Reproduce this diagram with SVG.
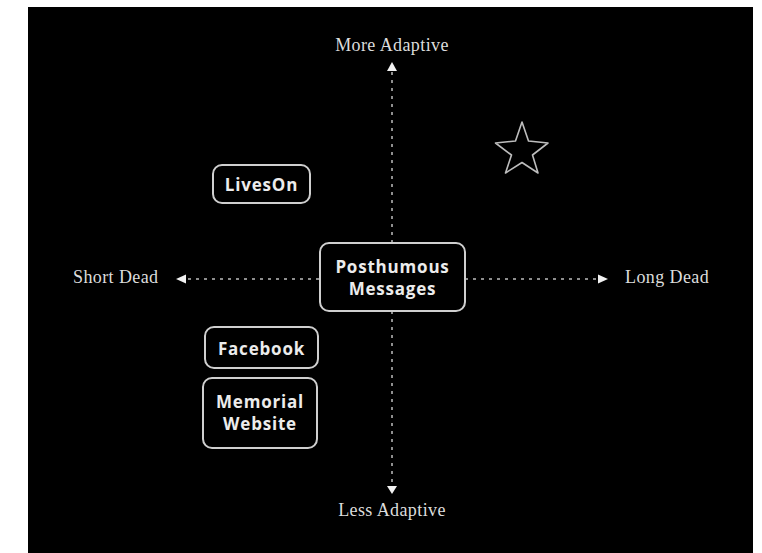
<svg xmlns="http://www.w3.org/2000/svg" width="762" height="553" viewBox="0 0 762 553">
<style>
.axis{font-family:"Liberation Serif",serif;font-size:18px;fill:#dcdcdc;letter-spacing:0.4px}
.lbl{font-family:"Open Sans","DejaVu Sans",sans-serif;font-weight:bold;font-size:17px;fill:#ececec;letter-spacing:0.8px;text-anchor:middle}
.box{fill:#000;stroke:#cfcfcf;stroke-width:2}
.dash{stroke:#bdbdbd;stroke-width:1.5;stroke-dasharray:3 5;fill:none}
.head{fill:#f2f2f2}
</style>
<rect x="0" y="0" width="762" height="553" fill="#fff"/>
<rect x="28" y="7" width="725" height="546" fill="#000"/>
<g id="connectors">
<line class="dash" x1="392" y1="72" x2="392" y2="243"/>
<line class="dash" x1="392" y1="311" x2="392" y2="486"/>
<line class="dash" x1="188" y1="279" x2="320" y2="279"/>
<line class="dash" x1="465" y1="279" x2="598" y2="279"/>
<polygon class="head" points="392,62 387,71 397,71"/>
<polygon class="head" points="392,494 387,486 397,486"/>
<polygon class="head" points="176,279 186,274.5 186,283.5"/>
<polygon class="head" points="608,279 598,274.5 598,283.5"/>
</g>
<g id="label-more-adaptive"><text class="axis" x="392" y="51" text-anchor="middle">More Adaptive</text></g>
<g id="label-less-adaptive"><text class="axis" x="392" y="516" text-anchor="middle">Less Adaptive</text></g>
<g id="label-short-dead"><text class="axis" x="73" y="283">Short Dead</text></g>
<g id="label-long-dead"><text class="axis" x="625" y="283">Long Dead</text></g>
<g id="node-posthumous">
<rect class="box" x="320" y="243" width="145" height="68" rx="9"/>
<text class="lbl" x="392.5" y="273">Posthumous</text>
<text class="lbl" x="392.5" y="295">Messages</text>
</g>
<g id="node-liveson">
<rect class="box" x="213" y="165" width="97" height="38" rx="9"/>
<text class="lbl" x="261.5" y="191">LivesOn</text>
</g>
<g id="node-facebook">
<rect class="box" x="205" y="327" width="113" height="41" rx="9"/>
<text class="lbl" x="261.5" y="355">Facebook</text>
</g>
<g id="node-memorial">
<rect class="box" x="203" y="378" width="114" height="70" rx="9"/>
<text class="lbl" x="260" y="408">Memorial</text>
<text class="lbl" x="260" y="430">Website</text>
</g>
<g id="star">
<polygon points="522,122 528.5,141 548,143 532.5,155 538,173 522,162.5 505.5,173 511.5,155 495.5,143 515.5,141" fill="none" stroke="#bdbdbd" stroke-width="1.6" stroke-linejoin="round"/>
</g>
</svg>
